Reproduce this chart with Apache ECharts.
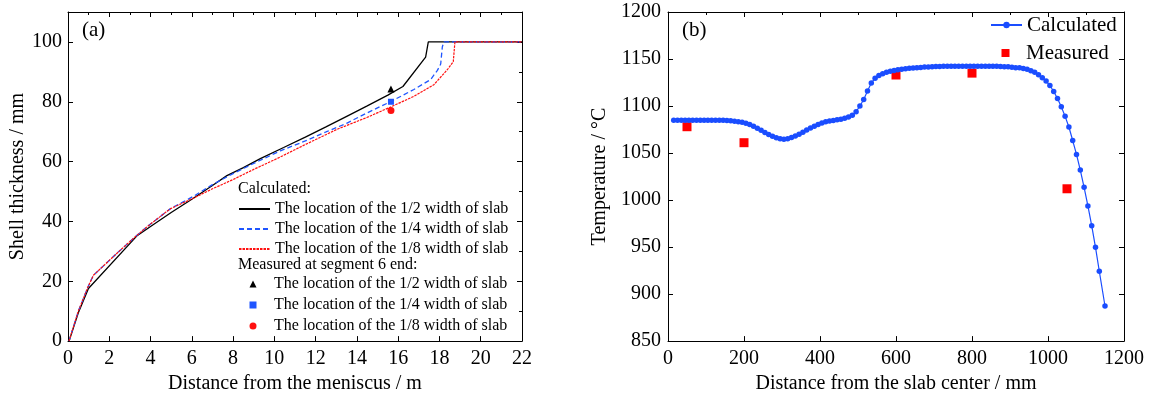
<!DOCTYPE html>
<html><head><meta charset="utf-8">
<script src="https://cdn.jsdelivr.net/npm/echarts@6/dist/echarts.min.js"></script>
<style>html,body{margin:0;padding:0;background:#fff}#c{width:1149px;height:399px}</style>
</head><body><div id="c"></div>
<script>
// ---- Panel (a): shell thickness vs distance from meniscus ----
const halfX = [0.05,0.5,0.99,3.33,4,5,6,7,7.7,8.5,9.32,10.45,11.5,12.5,13.53,14.5,15.5,16.23,17.33,17.46,22];
const halfY = [0,9.5,17.6,35.1,38.3,43,47.4,52,55.3,58,61,64.7,68.2,71.6,75.2,78.6,82.2,85.1,94.9,100,100];
const quarterX = [0.05,0.5,0.95,1.23,2.44,3.33,3.9,4.95,6.08,7,8,9,10.29,11.5,12.5,13.5,14.5,15.68,16.76,17.57,17.9,18.06,18.14,18.22,22];
const quarterY = [0,10,17.8,22,29.8,35.3,38.6,44.2,48.4,52.3,56,59.4,63.6,66.9,69.9,72.8,76.3,80.2,84.1,87.4,90.5,92.6,98.4,100,100];
const eighthX = [0.05,0.5,0.95,1.23,2.44,3.33,3.9,4.95,6.08,7,8,9,10.13,11.5,13.04,14.5,15.68,16.76,17.73,18.38,18.67,18.75,22];
const eighthY = [0,10,17.8,22,29.8,35.3,38.6,44.2,47.8,50.9,54,57.4,61,65.7,70.8,74.8,78.4,81.8,85.7,90.7,93.4,100,100];
const measSegX = [15.65];
const measHalf = [84.3];
const measQuarter = [80];
const measEighth = [77.1];

// ---- Panel (b): temperature vs distance from slab center ----
const calcX = [15,25,35,45,55,65,75,85,95,105,115,125,135,145,155,165,175,185,195,205,
  215,225,235,245,255,265,275,285,295,305,315,325,335,345,355,365,375,385,395,405,
  415,425,435,445,455,465,475,485,495,505,515,525,535,545,555,565,575,585,595,605,
  615,625,635,645,655,665,675,685,695,705,715,725,735,745,755,765,775,785,795,805,
  815,825,835,845,855,865,875,885,895,905,915,925,935,945,955,965,975,985,995,1005,
  1015,1025,1035,1045,1055,1065,1075,1085,1095,1105,1115,1125,1135,1150];
const calcT = [1085.0,1085.0,1085.0,1085.0,1085.0,1085.0,1085.0,1085.0,1085.0,1085.0,1085.0,1084.9,1084.9,1084.8,1084.6,1084.3,1083.9,1083.4,1082.8,1081.8,
  1080.3,1078.6,1076.5,1074.2,1071.9,1069.7,1067.8,1066.2,1065.2,1064.8,1065.2,1066.4,1068.0,1070.0,1072.2,1074.5,1076.6,1078.6,1080.4,1082.0,
  1083.2,1084.0,1084.6,1085.3,1086.0,1087.0,1088.3,1090.2,1094.0,1100.0,1107.0,1116.0,1124.5,1129.5,1132.5,1134.4,1135.8,1136.9,1137.8,1138.5,
  1139.1,1139.6,1140.1,1140.5,1140.8,1141.1,1141.4,1141.6,1141.8,1142.0,1142.1,1142.2,1142.3,1142.3,1142.4,1142.4,1142.4,1142.4,1142.4,1142.4,
  1142.4,1142.4,1142.4,1142.3,1142.3,1142.2,1142.1,1141.9,1141.7,1141.3,1140.8,1140.6,1139.9,1139.0,1137.6,1135.8,1133.2,1130.2,1126.5,1121.8,
  1115.4,1108.0,1099.2,1089.0,1077.7,1063.3,1048.5,1031.9,1013.6,993.8,972.7,949.7,924.3,887.3];
const measX = [50,200,600,800,1050];
const measT = [1078,1061,1133,1135,1012];

const legendText = {
  c12:'The location of the 1/2 width of slab', c14:'The location of the 1/4 width of slab', c18:'The location of the 1/8 width of slab',
  m12:'The location of the 1/2 width of slab', m14:'The location of the 1/4 width of slab', m18:'The location of the 1/8 width of slab',
  calc:'Calculated', meas:'Measured'
};

const FF = "'Liberation Serif','Times New Roman',serif";
const pairs = (xs, ys) => xs.map((x, i) => [x, ys[i]]);
const plain = v => String(v);

function axisBase(extra) {
  return Object.assign({
    type:'value',
    axisLine:{show:true, onZero:false, lineStyle:{color:'#000', width:1}},
    axisTick:{show:true, inside:true, length:5, lineStyle:{color:'#000'}},
    splitLine:{show:false},
    axisLabel:{color:'#000', fontFamily:FF, fontSize:20, formatter:plain},
    nameTextStyle:{color:'#000', fontFamily:FF, fontSize:20}
  }, extra);
}
function mirror(extra) {
  return Object.assign(axisBase({}), {
    axisLabel:{show:false},
    minorTick:{show:true, splitNumber:2, length:3, lineStyle:{color:'#000'}}
  }, extra);
}

const option = {
  animation:false,
  backgroundColor:'#fff',
  grid:[
    {left:68, top:12, width:454, height:331},
    {left:668, top:12, width:456, height:331}
  ],
  xAxis:[
    axisBase({gridIndex:0, min:0, max:22, interval:2, position:'bottom',
      axisLabel:{color:'#000', fontFamily:FF, fontSize:20, margin:8, formatter:plain},
      name:'Distance from the meniscus / m', nameLocation:'middle', nameGap:30}),
    mirror({gridIndex:0, min:0, max:22, interval:2, position:'top'}),
    axisBase({gridIndex:1, min:0, max:1200, interval:200, position:'bottom',
      axisLabel:{color:'#000', fontFamily:FF, fontSize:20, margin:8, formatter:plain},
      name:'Distance from the slab center / mm', nameLocation:'middle', nameGap:30}),
    mirror({gridIndex:1, min:0, max:1200, interval:200, position:'top'})
  ],
  yAxis:[
    axisBase({gridIndex:0, min:0, max:110, interval:20, position:'left',
      axisLabel:{color:'#000', fontFamily:FF, fontSize:20, margin:6, showMaxLabel:false, formatter:plain},
      name:'Shell thickness / mm', nameLocation:'middle', nameGap:40}),
    mirror({gridIndex:0, min:0, max:110, interval:20, position:'right'}),
    axisBase({gridIndex:1, min:850, max:1200, interval:50, position:'left',
      axisLabel:{color:'#000', fontFamily:FF, fontSize:20, margin:7, formatter:plain},
      name:'Temperature / °C', nameLocation:'middle', nameGap:58}),
    Object.assign(axisBase({gridIndex:1, min:850, max:1200, interval:50, position:'right'}), {axisLabel:{show:false}})
  ],
  legend:[
    {data:['c12','c14','c18'], orient:'vertical', left:238, top:199, padding:0, itemGap:0,
      itemWidth:31, itemHeight:14, selectedMode:false, itemStyle:{opacity:0},
      formatter:n => legendText[n],
      textStyle:{fontFamily:FF, fontSize:16, color:'#000', lineHeight:20}},
    {data:['m12','m14','m18'], orient:'vertical', left:249.5, top:273.5, padding:0, itemGap:0,
      itemWidth:7, itemHeight:7, selectedMode:false,
      formatter:n => legendText[n],
      textStyle:{fontFamily:FF, fontSize:16, color:'#000', lineHeight:21, padding:[0,0,0,12.5]}},
    {data:['calc'], orient:'vertical', left:990, top:11, padding:0, itemGap:0,
      itemWidth:31, itemHeight:8, selectedMode:false,
      formatter:n => legendText[n],
      textStyle:{fontFamily:FF, fontSize:21, color:'#000', lineHeight:28}},
    {data:['meas'], orient:'vertical', left:1001.5, top:39, padding:0, itemGap:0,
      itemWidth:8, itemHeight:8, selectedMode:false,
      formatter:n => legendText[n],
      textStyle:{fontFamily:FF, fontSize:21, color:'#000', lineHeight:28, padding:[0,0,0,11.5]}}
  ],
  graphic:[
    {type:'text', x:238, y:189, style:{text:'Calculated:', fontFamily:FF, fontSize:16, fill:'#000', verticalAlign:'middle'}},
    {type:'text', x:238, y:264.5, style:{text:'Measured at segment 6 end:', fontFamily:FF, fontSize:16, fill:'#000', verticalAlign:'middle'}},
    {type:'text', x:82, y:30, style:{text:'(a)', fontFamily:FF, fontSize:21, fill:'#000', verticalAlign:'middle'}},
    {type:'text', x:682, y:30, style:{text:'(b)', fontFamily:FF, fontSize:21, fill:'#000', verticalAlign:'middle'}}
  ],
  series:[
    {name:'c12', type:'line', xAxisIndex:0, yAxisIndex:0, data:pairs(halfX, halfY), symbol:'none', showSymbol:false,
      lineStyle:{color:'#000', width:1.3}, itemStyle:{color:'#000'}, silent:true},
    {name:'c14', type:'line', xAxisIndex:0, yAxisIndex:0, data:pairs(quarterX, quarterY), symbol:'none', showSymbol:false,
      lineStyle:{color:'#1f55ff', width:1.3, type:[5,3]}, itemStyle:{color:'#1f55ff'}, silent:true},
    {name:'c18', type:'line', xAxisIndex:0, yAxisIndex:0, data:pairs(eighthX, eighthY), symbol:'none', showSymbol:false,
      lineStyle:{color:'#ff1010', width:1.2, type:[2.5,1]}, itemStyle:{color:'#ff1010'}, silent:true},
    {name:'m12', type:'scatter', xAxisIndex:0, yAxisIndex:0, data:pairs(measSegX, measHalf), symbol:'triangle', symbolSize:7,
      itemStyle:{color:'#000', opacity:1}, silent:true},
    {name:'m14', type:'scatter', xAxisIndex:0, yAxisIndex:0, data:pairs(measSegX, measQuarter), symbol:'rect', symbolSize:6,
      itemStyle:{color:'#1f55ff', opacity:1}, silent:true},
    {name:'m18', type:'scatter', xAxisIndex:0, yAxisIndex:0, data:pairs(measSegX, measEighth), symbol:'circle', symbolSize:7,
      itemStyle:{color:'#ff1010', opacity:1}, silent:true},
    {name:'calc', type:'line', xAxisIndex:2, yAxisIndex:2, data:pairs(calcX, calcT), symbol:'circle', symbolSize:5.5, showSymbol:true,
      lineStyle:{color:'#1a4dff', width:1.2}, itemStyle:{color:'#1a4dff', opacity:1}, silent:true},
    {name:'meas', type:'scatter', xAxisIndex:2, yAxisIndex:2, data:pairs(measX, measT), symbol:'rect', symbolSize:9,
      itemStyle:{color:'#ff0000', opacity:1}, silent:true}
  ]
};
const chart = echarts.init(document.getElementById('c'), null, {renderer:'canvas'});
chart.setOption(option);
</script>
</body></html>
